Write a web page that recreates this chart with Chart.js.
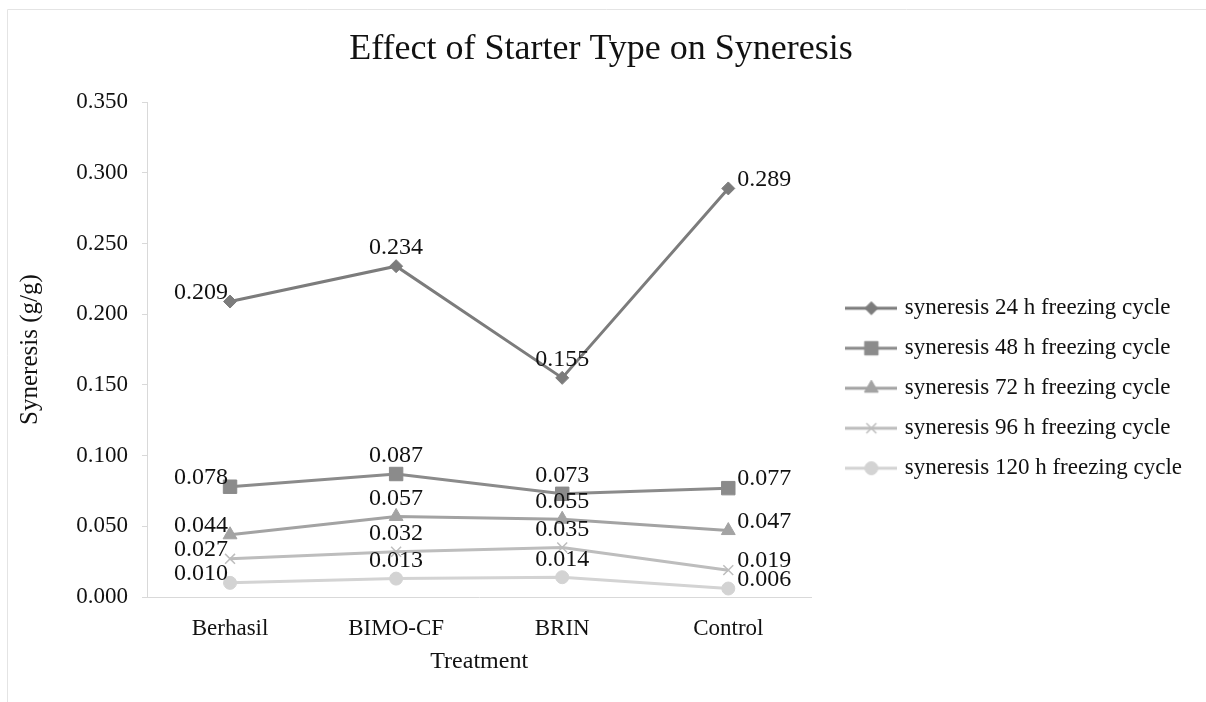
<!doctype html>
<html lang="en">
<head>
<meta charset="utf-8">
<title>Effect of Starter Type on Syneresis</title>
<style>
  html, body { margin: 0; padding: 0; background: #fff; }
  #wrap { position: relative; width: 1206px; height: 702px; }
</style>
</head>
<body>
<div id="wrap"><canvas id="chart"></canvas></div>

<script src="https://cdn.jsdelivr.net/npm/chart.js"></script>
<script>
  // values
  var treatments = ['Berhasil', 'BIMO-CF', 'BRIN', 'Control']
  var seriesNames = [
    'syneresis 24 h freezing cycle',
    'syneresis 48 h freezing cycle',
    'syneresis 72 h freezing cycle',
    'syneresis 96 h freezing cycle',
    'syneresis 120 h freezing cycle'
  ]
  var cycle24 = [0.209, 0.234, 0.155, 0.289]
  var cycle48 = [0.078, 0.087, 0.073, 0.077]
  var cycle72 = [0.044, 0.057, 0.055, 0.047]
  var cycle96 = [0.027, 0.032, 0.035, 0.019]
  var cycle120 = [0.010, 0.013, 0.014, 0.006]
  var yMin = 0
  var yMax = 0.35
  var yStep = 0.05

  // look of each series
  var colors = ['#7c7c7c', '#8b8b8b', '#a3a3a3', '#bdbdbd', '#d3d3d3']
  var markers = ['rectRot', 'rect', 'triangle', 'crossRot', 'circle']
  var radii = [6.5, 9.5, 8, 7, 6.5]

  var serif = "'Liberation Serif', 'Times New Roman', serif"
  var ink = '#111111'
  var axisGray = '#d9d9d9'

  Chart.defaults.font.family = serif
  Chart.defaults.color = ink

  // legend icons: a short line with the marker in the middle
  function drawMarker(ctx, style, x, y, r) {
    ctx.beginPath()
    if (style === 'rectRot') {
      ctx.moveTo(x - r, y); ctx.lineTo(x, y - r); ctx.lineTo(x + r, y); ctx.lineTo(x, y + r)
      ctx.closePath(); ctx.fill(); ctx.stroke()
    } else if (style === 'rect') {
      var s = r * Math.SQRT1_2
      ctx.rect(x - s, y - s, 2 * s, 2 * s); ctx.fill(); ctx.stroke()
    } else if (style === 'triangle') {
      ctx.moveTo(x, y - r); ctx.lineTo(x + r * 0.87, y + r * 0.5); ctx.lineTo(x - r * 0.87, y + r * 0.5)
      ctx.closePath(); ctx.fill(); ctx.stroke()
    } else if (style === 'crossRot') {
      var d = r * Math.SQRT1_2
      ctx.lineWidth = 1.5
      ctx.moveTo(x - d, y - d); ctx.lineTo(x + d, y + d)
      ctx.moveTo(x + d, y - d); ctx.lineTo(x - d, y + d)
      ctx.stroke()
    } else {
      ctx.arc(x, y, r, 0, Math.PI * 2); ctx.fill(); ctx.stroke()
    }
  }

  var icons = colors.map(function(c, i) {
    var cv = document.createElement('canvas')
    cv.width = 52
    cv.height = 22
    var g = cv.getContext('2d')
    g.strokeStyle = c
    g.fillStyle = c
    g.lineWidth = 3
    g.beginPath(); g.moveTo(0, 11); g.lineTo(52, 11); g.stroke()
    g.lineWidth = 1
    drawMarker(g, markers[i], 26, 11, radii[i])
    return cv
  })

  // value labels next to each point
  var valueLabels = {
    id: 'valueLabels',
    afterDatasetsDraw: function(chart) {
      var ctx = chart.ctx
      ctx.save()
      ctx.font = '24px ' + serif
      ctx.fillStyle = ink
      ctx.textBaseline = 'middle'
      chart.data.datasets.forEach(function(ds, di) {
        var meta = chart.getDatasetMeta(di)
        var last = ds.data.length - 1
        meta.data.forEach(function(pt, i) {
          var txt = ds.data[i].toFixed(3)
          if (i === 0) {
            ctx.textAlign = 'right'
            ctx.fillText(txt, pt.x - 2, pt.y - 9)
          } else if (i === last) {
            ctx.textAlign = 'left'
            ctx.fillText(txt, pt.x + 9, pt.y - 9)
          } else {
            ctx.textAlign = 'center'
            ctx.fillText(txt, pt.x, pt.y - 18)
          }
        })
      })
      ctx.restore()
    }
  }

  // thin chart border on the left and top
  var frame = {
    id: 'frame',
    beforeDraw: function(chart) {
      var ctx = chart.ctx
      ctx.save()
      ctx.strokeStyle = '#e4e4e4'
      ctx.lineWidth = 1
      ctx.beginPath()
      ctx.moveTo(7.5, chart.height)
      ctx.lineTo(7.5, 9.5)
      ctx.lineTo(chart.width, 9.5)
      ctx.stroke()
      ctx.restore()
    }
  }

  var allSeries = [cycle24, cycle48, cycle72, cycle96, cycle120]
  var datasets = allSeries.map(function(values, i) {
    return {
      label: seriesNames[i],
      data: values,
      borderColor: colors[i],
      backgroundColor: colors[i],
      borderWidth: 3,
      tension: 0,
      pointStyle: markers[i],
      pointRadius: radii[i],
      pointBorderWidth: markers[i] === 'crossRot' ? 1.5 : 1,
      pointBorderColor: colors[i],
      pointBackgroundColor: colors[i]
    }
  })

  new Chart(document.getElementById('chart'), {
    type: 'line',
    data: { labels: treatments, datasets: datasets },
    plugins: [frame, valueLabels],
    options: {
      responsive: true,
      maintainAspectRatio: false,
      animation: false,
      layout: { padding: { left: 10, right: 14, top: 10, bottom: 10 } },
      plugins: {
        tooltip: { enabled: false },
        title: {
          display: true,
          text: 'Effect of Starter Type on Syneresis',
          color: ink,
          font: { size: 36, weight: 'normal' },
          padding: { top: 18, bottom: 31 }
        },
        legend: {
          position: 'right',
          align: 'center',
          maxWidth: 420,
          title: { display: true, text: ' ', font: { size: 12 }, padding: { top: 60, bottom: 0 } },
          labels: {
            usePointStyle: true,
            pointStyleWidth: 44,
            padding: 17,
            color: ink,
            font: { size: 23 },
            generateLabels: function(chart) {
              var items = Chart.defaults.plugins.legend.labels.generateLabels(chart)
              items.forEach(function(it, i) { it.pointStyle = icons[i] })
              return items
            }
          }
        }
      },
      scales: {
        x: {
          offset: true,
          grid: { display: false },
          border: { display: true, color: axisGray, width: 1 },
          ticks: { color: ink, font: { size: 23 }, padding: 10 },
          title: {
            display: true,
            text: 'Treatment',
            color: ink,
            font: { size: 24 },
            padding: { top: 4, bottom: 16 }
          },
          afterFit: function(s) { s.height = 95 }
        },
        y: {
          min: yMin,
          max: yMax,
          grid: { display: true, drawOnChartArea: false, drawTicks: true, tickLength: 5, color: axisGray },
          border: { display: true, color: axisGray, width: 1 },
          ticks: {
            stepSize: yStep,
            color: ink,
            font: { size: 23 },
            padding: 14,
            callback: function(v) { return v.toFixed(3) }
          },
          title: {
            display: true,
            text: 'Syneresis (g/g)',
            color: ink,
            font: { size: 25 },
            padding: { top: 5, bottom: 0 }
          },
          afterFit: function(s) { s.width = 137 }
        },
        // empty strip between plot and legend
        gap: {
          type: 'linear',
          position: 'right',
          display: true,
          grid: { display: false },
          border: { display: false },
          ticks: { display: false },
          afterFit: function(s) { s.width = 21 }
        }
      }
    }
  })
</script>
</body>
</html>
